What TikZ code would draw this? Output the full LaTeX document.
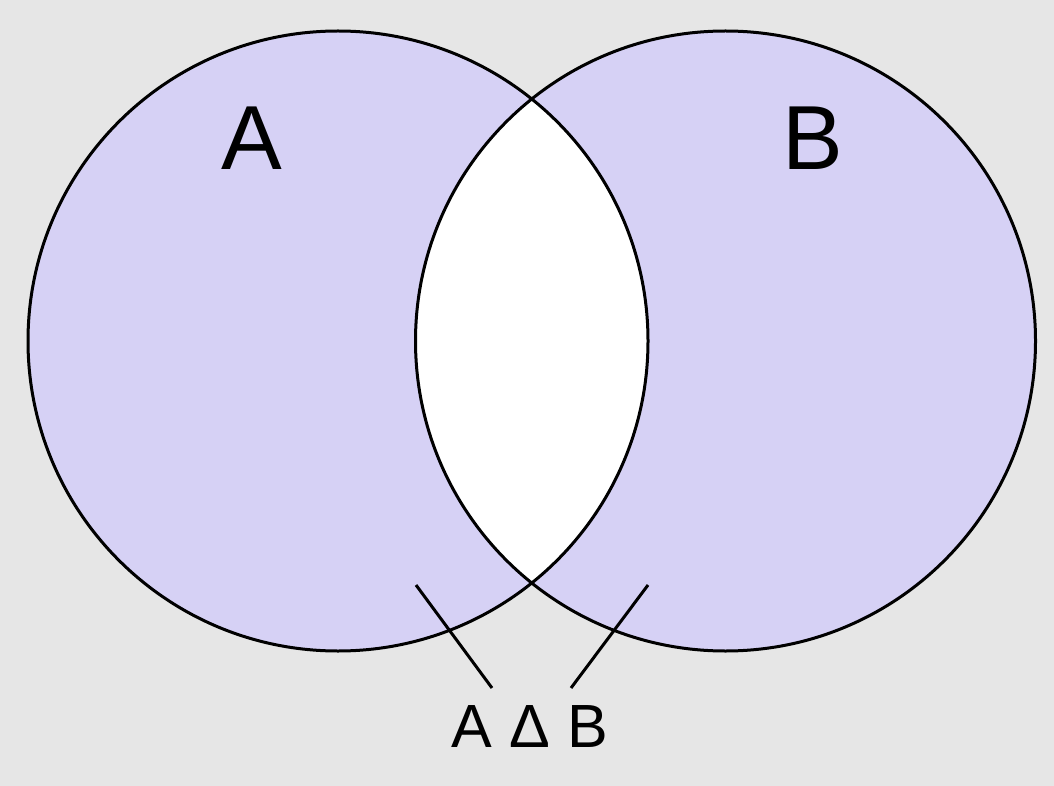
\documentclass[tikz,border=0pt]{standalone}
\usepackage{fontspec}
\setmainfont{Liberation Sans}
\usepackage{xcolor}
\usepackage{tikz}
\definecolor{cBg}{RGB}{230,230,230}
\definecolor{cSet}{RGB}{214,209,245}

\begin{document}
\begin{tikzpicture}[x=1pt,y=-1pt,line width=3pt]
\tikzset{setlabel/.style={anchor=base,font=\fontsize{91}{100}\selectfont},
  difflabel/.style={anchor=base,font=\fontsize{61}{70}\selectfont}}
\fill[cBg] (0,0) rectangle (1054,786);
\useasboundingbox (0,0) rectangle (1054,786);
% the two sets
\fill[cSet] (338,341) circle (310pt);
\fill[cSet] (725.5,341) circle (310pt);
\begin{scope}
\clip (338,341) circle (310pt);
\fill[white] (725.5,341) circle (310pt);
\end{scope}
\draw (338,341) circle (310pt);
\draw (725.5,341) circle (310pt);
\node[setlabel] (labA) at (252,170) {A};
\node[setlabel] (labB) at (813,170) {B};
\node[difflabel] (labD) at (530,747) {A Δ B};
% pointers
\coordinate (pA) at (416,585);
\coordinate (pB) at (648,585);
\coordinate (eA) at (492,688);
\coordinate (eB) at (571,688);
\draw (pA) -- (eA);
\draw (pB) -- (eB);
\end{tikzpicture}
\end{document}
